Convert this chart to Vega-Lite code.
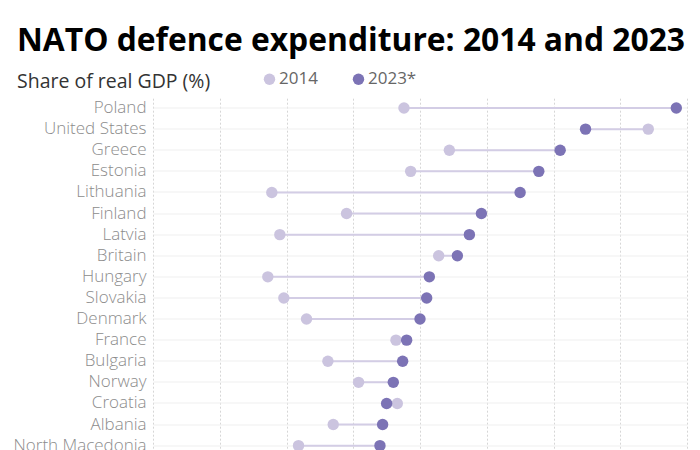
{
  "$schema": "https://vega.github.io/schema/vega-lite/v6.json",
  "autosize": "none",
  "width": 534,
  "height": 358.7,
  "padding": {"left": 153, "top": 97.5, "right": 13, "bottom": 0},
  "background": "white",
  "title": {
    "text": "NATO defence expenditure: 2014 and 2023",
    "subtitle": "Share of real GDP (%)",
    "anchor": "start",
    "frame": "group",
    "dx": -136,
    "offset": -21,
    "font": "Open Sans",
    "fontSize": 31.8,
    "fontWeight": "bold",
    "color": "#000000",
    "subtitleFont": "Open Sans",
    "subtitleFontSize": 19.5,
    "subtitleColor": "#333333",
    "subtitlePadding": 15
  },
  "data": {
    "values": [
      {"country": "Poland", "2014": 1.88, "2023": 3.92},
      {"country": "United States", "2014": 3.71, "2023": 3.24},
      {"country": "Greece", "2014": 2.22, "2023": 3.05},
      {"country": "Estonia", "2014": 1.93, "2023": 2.89},
      {"country": "Lithuania", "2014": 0.89, "2023": 2.75},
      {"country": "Finland", "2014": 1.45, "2023": 2.46},
      {"country": "Latvia", "2014": 0.95, "2023": 2.37},
      {"country": "Britain", "2014": 2.14, "2023": 2.28},
      {"country": "Hungary", "2014": 0.86, "2023": 2.07},
      {"country": "Slovakia", "2014": 0.98, "2023": 2.05},
      {"country": "Denmark", "2014": 1.15, "2023": 2.0},
      {"country": "France", "2014": 1.82, "2023": 1.9},
      {"country": "Bulgaria", "2014": 1.31, "2023": 1.87},
      {"country": "Norway", "2014": 1.54, "2023": 1.8},
      {"country": "Croatia", "2014": 1.83, "2023": 1.75},
      {"country": "Albania", "2014": 1.35, "2023": 1.72},
      {"country": "North Macedonia", "2014": 1.09, "2023": 1.7}
    ]
  },
  "encoding": {
    "y": {
      "field": "country",
      "type": "nominal",
      "sort": null,
      "scale": {"paddingInner": 0, "paddingOuter": 0},
      "axis": {
        "title": null,
        "domain": false,
        "ticks": false,
        "grid": true,
        "gridColor": "#efefef",
        "gridWidth": 1,
        "labelFont": "Open Sans",
        "labelFontSize": 17,
        "labelFontWeight": 300,
        "labelColor": "#8c8c8c",
        "labelPadding": 7
      }
    }
  },
  "layer": [
    {
      "mark": {"type": "rule", "color": "#d3cde5", "strokeWidth": 2},
      "encoding": {
        "x": {
          "field": "2014",
          "type": "quantitative",
          "scale": {"domain": [0, 4], "nice": false, "zero": false},
          "axis": {
            "title": null,
            "labels": false,
            "ticks": false,
            "domain": false,
            "grid": true,
            "gridDash": [2, 2],
            "gridColor": "#d6d6d6",
            "values": [0, 0.5, 1, 1.5, 2, 2.5, 3, 3.5, 4]
          }
        },
        "x2": {"field": "2023"}
      }
    },
    {
      "transform": [{"fold": ["2014", "2023"], "as": ["year", "value"]}],
      "mark": {"type": "circle", "size": 130, "opacity": 1},
      "encoding": {
        "x": {"field": "value", "type": "quantitative"},
        "color": {
          "field": "year",
          "type": "nominal",
          "scale": {"domain": ["2014", "2023"], "range": ["#cbc4df", "#7c73b5"]},
          "legend": {
            "title": null,
            "orient": "none",
            "direction": "horizontal",
            "legendX": 108,
            "legendY": -27,
            "symbolType": "circle",
            "symbolSize": 130,
            "symbolOpacity": 1,
            "labelFont": "Open Sans",
            "labelFontSize": 17,
            "labelColor": "#666666",
            "labelOffset": 1,
            "columnPadding": 32,
            "labelExpr": "datum.label == '2023' ? '2023*' : datum.label"
          }
        }
      }
    }
  ],
  "config": {
    "view": {"stroke": null}
  }
}
